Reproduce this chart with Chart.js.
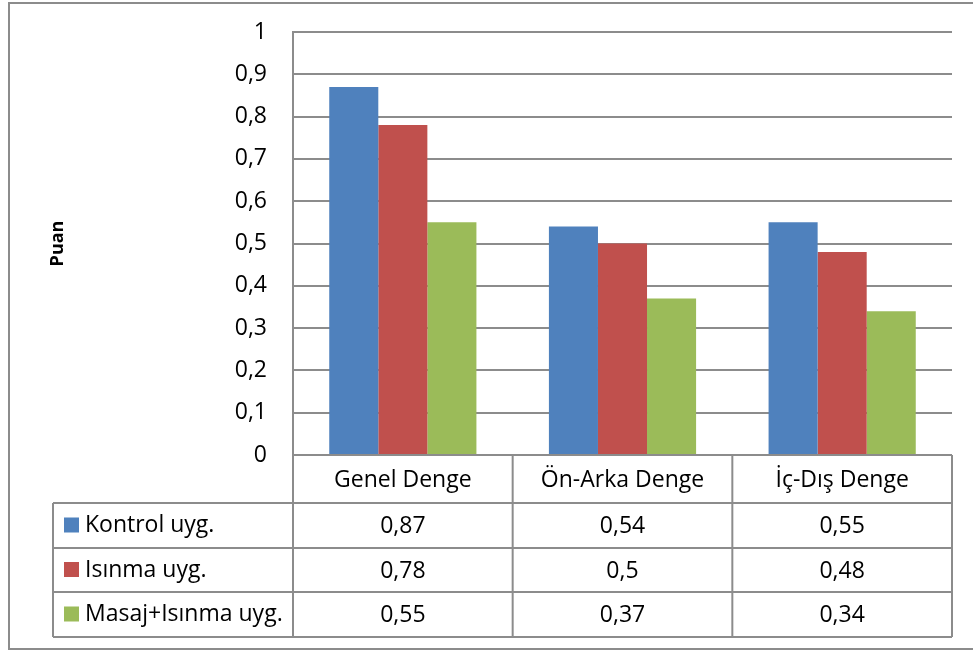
<!DOCTYPE html>
<html>
<head>
<meta charset="utf-8">
<script src="https://cdn.jsdelivr.net/npm/chart.js@4.4.1/dist/chart.umd.min.js"></script>
<style>
  html, body { margin: 0; padding: 0; background: #fff; }
  #c { display: block; }
</style>
</head>
<body>
<canvas id="c" width="973" height="652"></canvas>
<script>
// Categories and series values
const categories = ['Genel Denge', 'Ön-Arka Denge', 'İç-Dış Denge'];
const seriesNames = ['Kontrol uyg.', 'Isınma uyg.', 'Masaj+Isınma uyg.'];
const kontrolValues = [0.87, 0.54, 0.55];
const isinmaValues = [0.78, 0.5, 0.48];
const masajValues = [0.55, 0.37, 0.34];
const seriesColors = ['#4F81BD', '#C0504D', '#9BBB59'];
const yAxisTitle = 'Puan';

const LINE = '#8c8c8c';
const FONT = "'Open Sans', sans-serif";
const FONT_SIZE = 23;

// Turkish decimal comma
const fmt = v => String(Number(v.toFixed(2))).replace('.', ',');

const seriesValues = [kontrolValues, isinmaValues, masajValues];

// Outer frame of the chart object
const frame = {
  id: 'frame',
  beforeDraw(chart) {
    const ctx = chart.ctx;
    ctx.save();
    ctx.fillStyle = '#fff';
    ctx.fillRect(0, 0, chart.width, chart.height);
    ctx.strokeStyle = LINE;
    ctx.lineWidth = 2;
    ctx.strokeRect(9, 3, chart.width + 20, chart.height - 6);
    ctx.restore();
  }
};

// Data table under the plot area (category header + one row per series)
const dataTable = {
  id: 'dataTable',
  afterDraw(chart) {
    const ctx = chart.ctx;
    const a = chart.chartArea;
    const n = categories.length;
    const colW = (a.right - a.left) / n;
    const legendLeft = 53;
    const rowH = [48, 45, 44, 45];
    const ys = [a.bottom];
    rowH.forEach(h => ys.push(ys[ys.length - 1] + h));

    ctx.save();
    ctx.strokeStyle = LINE;
    ctx.lineWidth = 2;
    ctx.beginPath();
    // horizontal rules
    ctx.moveTo(a.left, ys[0]); ctx.lineTo(a.right, ys[0]);
    for (let r = 1; r < ys.length; r++) {
      ctx.moveTo(legendLeft, ys[r]); ctx.lineTo(a.right, ys[r]);
    }
    // vertical rules
    ctx.moveTo(legendLeft, ys[1]); ctx.lineTo(legendLeft, ys[ys.length - 1]);
    for (let i = 0; i <= n; i++) {
      const x = a.left + i * colW;
      ctx.moveTo(x, ys[0]); ctx.lineTo(x, ys[ys.length - 1]);
    }
    ctx.stroke();

    ctx.fillStyle = '#000';
    ctx.font = FONT_SIZE + 'px ' + FONT;
    ctx.textAlign = 'center';
    ctx.textBaseline = 'middle';
    categories.forEach((c, i) => {
      ctx.fillText(c, a.left + (i + 0.5) * colW, (ys[0] + ys[1]) / 2 + 1);
    });
    seriesValues.forEach((vals, r) => {
      const cy = (ys[r + 1] + ys[r + 2]) / 2;
      vals.forEach((v, i) => {
        ctx.fillText(fmt(v), a.left + (i + 0.5) * colW, cy + 1);
      });
      // legend key + series name
      ctx.fillStyle = seriesColors[r];
      ctx.fillRect(64, cy - 8, 15, 15);
      ctx.fillStyle = '#000';
      ctx.textAlign = 'left';
      ctx.fillText(seriesNames[r], 85, cy);
      ctx.textAlign = 'center';
    });
    ctx.restore();
  }
};

new Chart(document.getElementById('c'), {
  type: 'bar',
  data: {
    labels: categories,
    datasets: seriesNames.map((name, i) => ({
      label: name,
      data: seriesValues[i],
      backgroundColor: seriesColors[i],
      borderWidth: 0
    }))
  },
  options: {
    responsive: false,
    animation: false,
    devicePixelRatio: 1,
    layout: { padding: { left: 0, top: 32, right: 21, bottom: 197 } },
    datasets: { bar: { categoryPercentage: 0.67, barPercentage: 1.0 } },
    plugins: { legend: { display: false }, tooltip: { enabled: false } },
    scales: {
      x: { display: false },
      y: {
        min: 0,
        max: 1,
        afterFit(scale) { scale.width = 293; },
        ticks: {
          stepSize: 0.1,
          padding: 0,
          color: '#000',
          font: { family: FONT, size: FONT_SIZE },
          callback: v => fmt(v)
        },
        // invisible tick marks keep the labels clear of the axis line
        grid: { color: LINE, lineWidth: 2, drawTicks: true, tickLength: 26, tickColor: 'rgba(0,0,0,0)' },
        border: { display: true, color: LINE, width: 2 },
        title: {
          display: true,
          text: yAxisTitle,
          color: '#000',
          font: { family: FONT, size: 18, weight: 'bold' },
          padding: { top: 47, bottom: 0 }
        }
      }
    }
  },
  plugins: [frame, dataTable]
});
</script>
</body>
</html>
